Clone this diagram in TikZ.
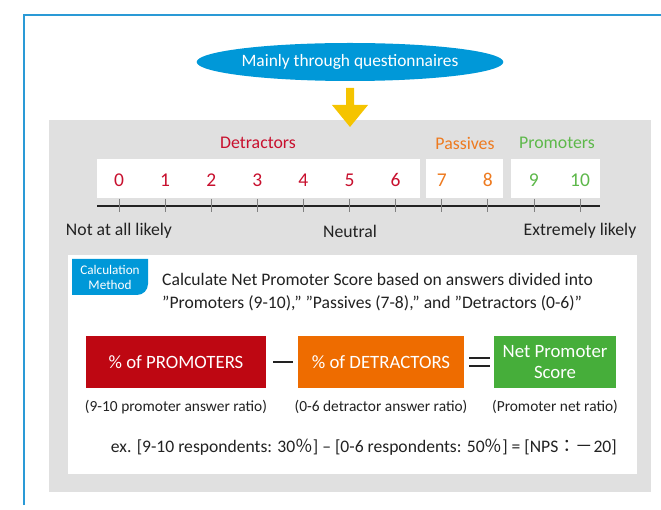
\documentclass[tikz,border=0pt]{standalone}
\usepackage{fontspec}
\setmainfont{Carlito}
\newfontfamily\cjkf{Noto Sans CJK JP}
\usetikzlibrary{shapes.geometric}
\definecolor{frameblue}{HTML}{2A9AD6}
\definecolor{ellblue}{HTML}{0098D8}
\definecolor{arrowyel}{HTML}{F5C400}
\definecolor{panelgrey}{HTML}{E0E0E0}
\definecolor{detred}{HTML}{C8102E}
\definecolor{pasorange}{HTML}{EE7A1F}
\definecolor{progreen}{HTML}{5DB84A}
\definecolor{boxred}{HTML}{BE0712}
\definecolor{boxorange}{HTML}{EE6C00}
\definecolor{boxgreen}{HTML}{46AE3A}
\definecolor{txt}{HTML}{222222}
\tikzset{
  numlbl/.style={font=\fontsize{19.5}{19.5}\selectfont, inner sep=0},
  grplbl/.style={font=\fontsize{17.8}{17.8}\selectfont, inner sep=0},
  scalelbl/.style={font=\fontsize{17.7}{17.7}\selectfont, text=txt, inner sep=0},
  calcbox/.style={minimum height=52, inner sep=0, text=white, font=\fontsize{18.8}{20.5}\selectfont, align=center},
  caption/.style={font=\fontsize{15.4}{15.4}\selectfont, text=txt, inner sep=0},
  opsym/.style={inner sep=0, text=txt}
}
\begin{document}
\begin{tikzpicture}[x=1pt,y=-1pt]
\useasboundingbox (0,0) rectangle (661,510);
% outer frame
\draw[frameblue, line width=1.2] (24,505) coordinate (fbl) -- (24,15) coordinate (ftl) -- (661,15) coordinate (ftr);
% grey panel
\fill[panelgrey] (49,120) rectangle (651,492);
% ellipse
\node[ellipse, fill=ellblue, minimum width=302, minimum height=38, inner sep=0, text=white,
  font=\fontsize{17.4}{17.4}\selectfont] (ell) at (350,62) {Mainly through questionnaires};
% yellow arrow
\fill[arrowyel] (346,88) -- (354,88) -- (354,105) -- (368,105) -- (350,127) -- (332,105) -- (346,105) -- cycle;
% group labels
\node[grplbl, text=detred] (gdet) at (258,143) {Detractors};
\node[grplbl, text=pasorange] (gpas) at (465,143) {Passives};
\node[grplbl, text=progreen] (gpro) at (557,143) {Promoters};
% white number boxes
\fill[white] (97,159) rectangle (420,198);
\fill[white] (426,159) rectangle (503,198);
\fill[white] (511,159) rectangle (600,198);
% axis
\draw[line width=1.4, txt] (97,206) coordinate (axl) -- (600,206) coordinate (axr);
\foreach \i in {0,...,10}{
  \pgfmathsetmacro{\xx}{119+46.1*\i}
  \draw[gray, line width=0.8] (\xx,199) -- (\xx,212);
}
\foreach \i in {0,...,6}{
  \pgfmathsetmacro{\xx}{119+46.1*\i}
  \node[numlbl, text=detred] (n\i) at (\xx,180) {\i};
}
\foreach \i in {7,8}{
  \pgfmathsetmacro{\xx}{119+46.1*\i}
  \node[numlbl, text=pasorange] (n\i) at (\xx,180) {\i};
}
\foreach \i in {9,10}{
  \pgfmathsetmacro{\xx}{119+46.1*\i}
  \node[numlbl, text=progreen] (n\i) at (\xx,180) {\i};
}
\node[scalelbl] (nl) at (119,231) {Not at all likely};
\node[scalelbl] (neu) at (350,231) {Neutral};
\node[scalelbl] (el) at (580,231) {Extremely likely};
% white lower panel
\fill[white] (68,255) rectangle (637,474);
% calculation method tab
\fill[ellblue] (72,259) -- (148,259) -- (148,284) .. controls (148,290) and (143,295) .. (137,295) -- (72,295) -- cycle;
\node[text=white, font=\fontsize{13.2}{15}\selectfont, align=center, inner sep=0] (tab) at (110,277) {Calculation\\Method};
\node[anchor=west, text=txt, font=\fontsize{17.6}{23}\selectfont, align=left, inner sep=0] (desc) at (162,292)
  {Calculate Net Promoter Score based on answers divided into\\
   ”Promoters (9-10),” ”Passives (7-8),” and ”Detractors (0-6)”};
% formula boxes
\node[calcbox, fill=boxred, minimum width=180] (bp) at (176,362) {\% of PROMOTERS};
\node[calcbox, fill=boxorange, minimum width=166] (bd) at (381,362) {\% of DETRACTORS};
\node[calcbox, fill=boxgreen, minimum width=122] (bn) at (555,362) {Net Promoter\\Score};
\node[opsym] (minus) at (283,362) {\rule{20pt}{2.3pt}};
\node[opsym] (eq) at (479.5,362) {\vbox{\hrule width 21pt height 2.4pt\vskip 5.6pt\hrule width 21pt height 2.4pt}};
\node[caption] (c1) at (176,407) {(9-10 promoter answer ratio)};
\node[caption] (c2) at (381,407) {(0-6 detractor answer ratio)};
\node[caption] (c3) at (555,407) {(Promoter net ratio)};
\node[anchor=east, text=txt, font=\fontsize{17.6}{17.6}\selectfont, inner sep=0] (ex) at (617,447)
  {ex. [9-10 respondents: 30{\cjkf ％}] – [0-6 respondents: 50{\cjkf ％}] = [NPS{\cjkf ：－}20]};
\end{tikzpicture}
\end{document}
